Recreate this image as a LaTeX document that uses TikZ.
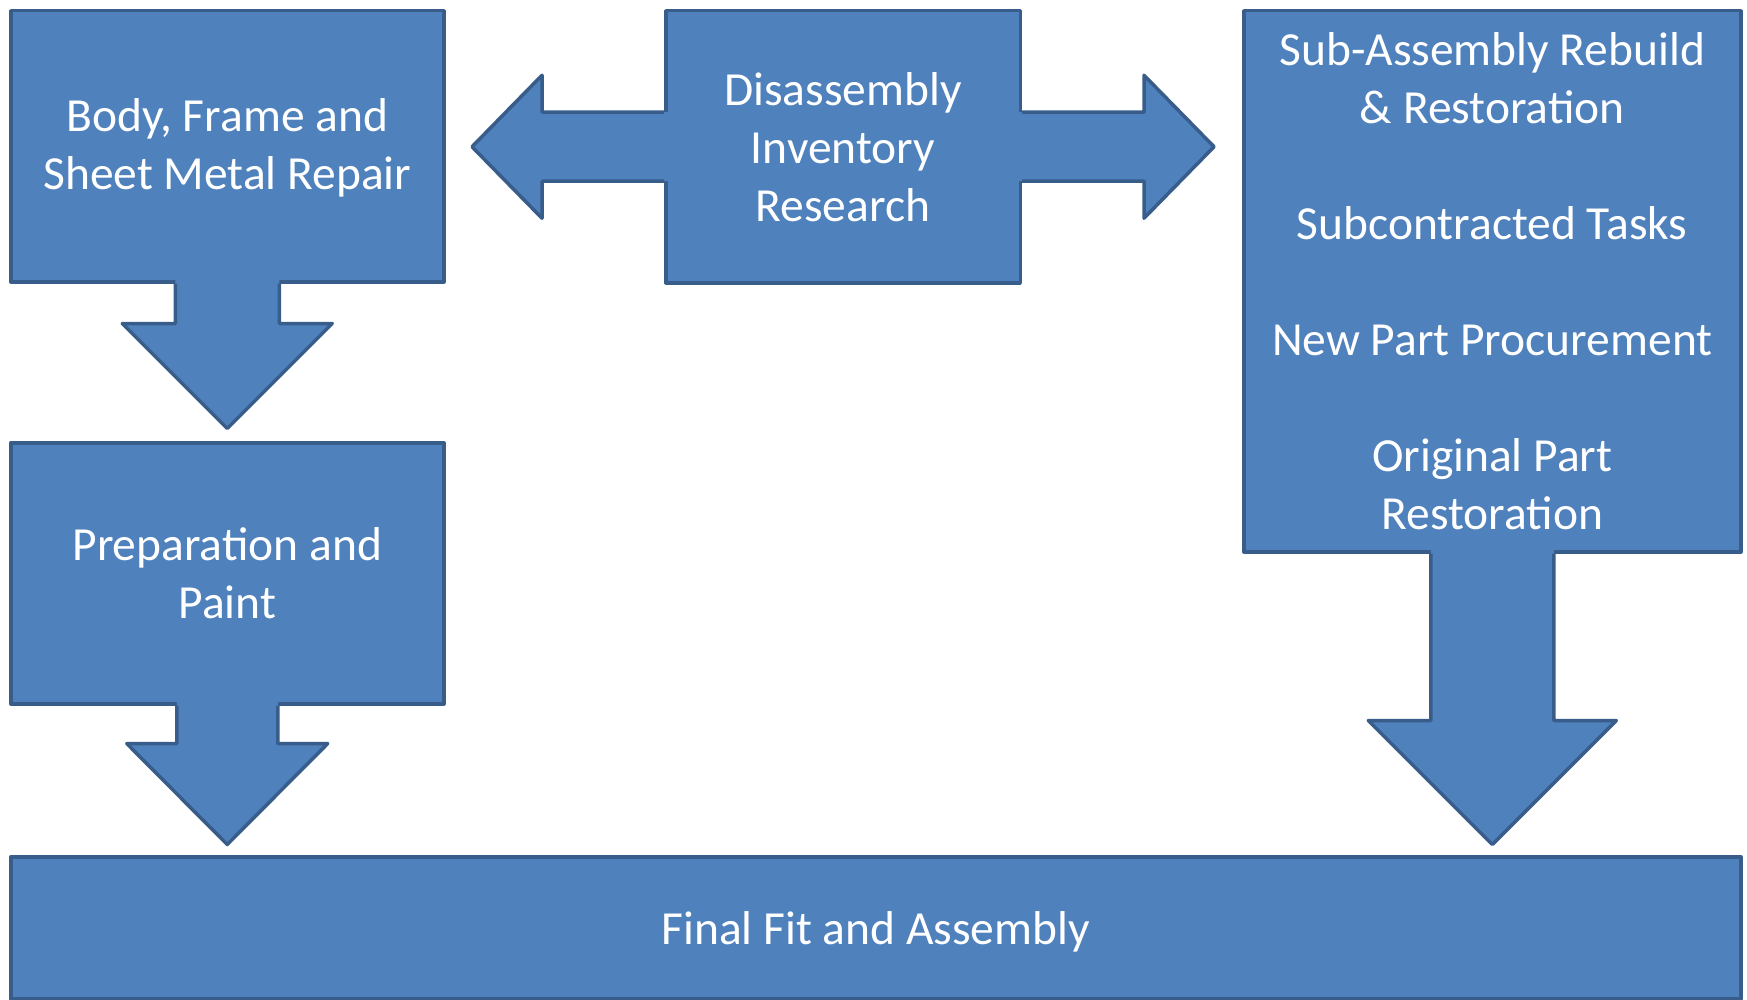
\documentclass[tikz,border=0pt]{standalone}
\usepackage{fontspec}
\setmainfont{Carlito}
\usetikzlibrary{calc}
\definecolor{boxfill}{HTML}{4F81BD}
\definecolor{boxline}{HTML}{385D8A}
\tikzset{
  blk/.style={rectangle, draw=boxline, fill=boxfill, line width=3.5pt, line join=round,
    inner sep=0pt, anchor=north west, text=white, align=center,
    font=\fontsize{47.5}{58}\selectfont},
  arrline/.style={draw=boxline, line width=3.5pt, line join=round},
}
% down block arrow: anchor, stem half width, head half width, head dy, tip dy
\newcommand\dblock[5]{%
  \fill[boxfill] ($(#1)+(-#2,-12)$) -- ($(#1)+(-#2,#4)$) -- ($(#1)+(-#3,#4)$) -- ($(#1)+(0,#5)$)
     -- ($(#1)+(#3,#4)$) -- ($(#1)+(#2,#4)$) -- ($(#1)+(#2,-12)$) -- cycle;
  \draw[arrline] ($(#1)+(-#2,0)$) -- ($(#1)+(-#2,#4)$) -- ($(#1)+(-#3,#4)$) -- ($(#1)+(0,#5)$)
     -- ($(#1)+(#3,#4)$) -- ($(#1)+(#2,#4)$) -- ($(#1)+(#2,0)$);
}
% left block arrow: anchor, stem half, head half, head dx, tip dx (positive = leftwards)
\newcommand\lblock[5]{%
  \fill[boxfill] ($(#1)+(12,-#2)$) -- ($(#1)+(-#4,-#2)$) -- ($(#1)+(-#4,-#3)$) -- ($(#1)+(-#5,0)$)
     -- ($(#1)+(-#4,#3)$) -- ($(#1)+(-#4,#2)$) -- ($(#1)+(12,#2)$) -- cycle;
  \draw[arrline] ($(#1)+(0,-#2)$) -- ($(#1)+(-#4,-#2)$) -- ($(#1)+(-#4,-#3)$) -- ($(#1)+(-#5,0)$)
     -- ($(#1)+(-#4,#3)$) -- ($(#1)+(-#4,#2)$) -- ($(#1)+(0,#2)$);
}
\newcommand\rblock[5]{%
  \fill[boxfill] ($(#1)+(-12,-#2)$) -- ($(#1)+(#4,-#2)$) -- ($(#1)+(#4,-#3)$) -- ($(#1)+(#5,0)$)
     -- ($(#1)+(#4,#3)$) -- ($(#1)+(#4,#2)$) -- ($(#1)+(-12,#2)$) -- cycle;
  \draw[arrline] ($(#1)+(0,-#2)$) -- ($(#1)+(#4,-#2)$) -- ($(#1)+(#4,-#3)$) -- ($(#1)+(#5,0)$)
     -- ($(#1)+(#4,#3)$) -- ($(#1)+(#4,#2)$) -- ($(#1)+(0,#2)$);
}
\begin{document}
\begin{tikzpicture}[x=1pt,y=-1pt]
\useasboundingbox (0,0) rectangle (1747,1000);
\node[blk, minimum width=433pt, minimum height=271pt] (body) at (9,9)
  {\raisebox{-2.5pt}[\height][\depth]{\begin{tabular}{@{}c@{}}Body, Frame and\\Sheet Metal Repair\end{tabular}}};
\node[blk, minimum width=433pt, minimum height=261pt] (paint) at (9,441)
  {Preparation and\\Paint};
\node[blk, minimum width=354.5pt, minimum height=272pt] (dis) at (664,9)
  {Disassembly\\Inventory\\Research};
\node[blk, minimum width=497pt, minimum height=541pt] (sub) at (1242,9)
  {Sub-Assembly Rebuild\\\& Restoration\\[58pt]Subcontracted Tasks\\[58pt]New Part Procurement\\[58pt]Original Part\\Restoration};
\node[blk, minimum width=1730pt, minimum height=142pt] (final) at (9,855)
  {\raisebox{-4.5pt}[\height][\depth]{Final Fit and Assembly}};
\dblock{body.south}{52}{105}{40}{145}
\dblock{paint.south}{50.5}{100.5}{38}{139}
\dblock{sub.south}{61.5}{124}{167}{291}
\lblock{dis.west}{34.5}{71.5}{122}{192}
\rblock{dis.east}{34.5}{71.5}{122}{192}
\end{tikzpicture}
\end{document}
